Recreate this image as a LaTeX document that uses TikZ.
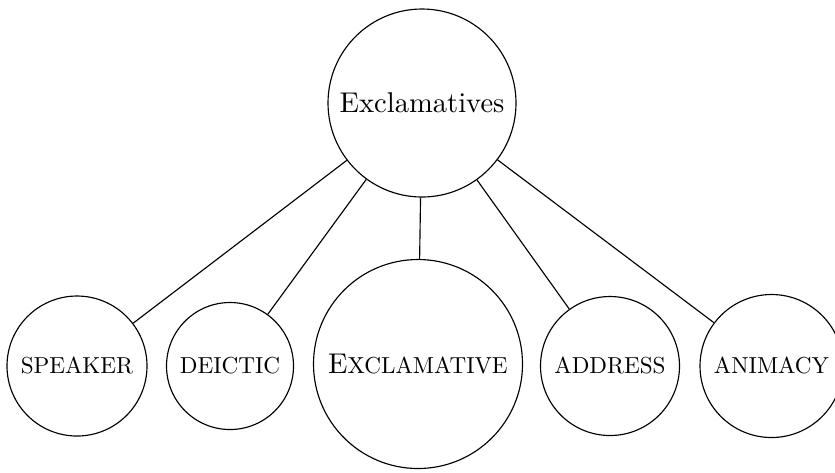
\documentclass[tikz,border=0pt]{standalone}
\font\fakesc=cmr10 at 8.1pt
\newcommand{\fsc}[1]{{\fakesc #1}}
\begin{document}
\begin{tikzpicture}[x=0.35pt,y=-0.35pt,
  cnode/.style={draw, circle, inner sep=1pt, line width=0.4pt, font=\fontsize{10}{12}\selectfont},
  link/.style={draw, line width=0.4pt}]
\useasboundingbox (0,0) rectangle (835,472);
\node[cnode, minimum size=188*0.35pt] (top) at (422,103) {Exclamatives};
\node[cnode, minimum size=140*0.35pt] (spk) at (77,366) {\fsc{SPEAKER}};
\node[cnode, minimum size=127*0.35pt] (dei) at (230,366) {\fsc{DEICTIC}};
\node[cnode, minimum size=209*0.35pt] (exc) at (418,364) {E\fsc{XCLAMATIVE}};
\node[cnode, minimum size=139*0.35pt] (adr) at (610,366) {\fsc{ADDRESS}};
\node[cnode, minimum size=143*0.35pt] (ani) at (771.5,366) {\fsc{ANIMACY}};
\path[link] (top) -- (spk);
\path[link] (top) -- (dei);
\path[link] (top) -- (exc);
\path[link] (top) -- (adr);
\path[link] (top) -- (ani);
\end{tikzpicture}
\end{document}
